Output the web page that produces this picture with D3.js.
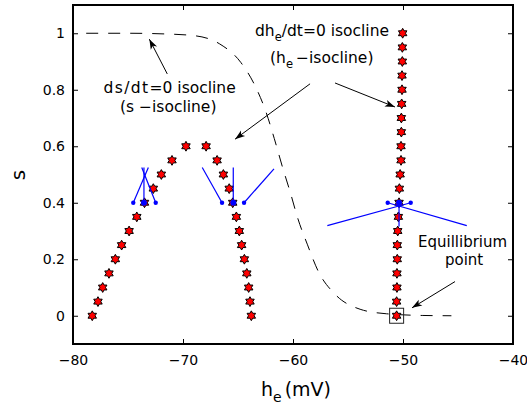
<!DOCTYPE html>
<html><head><meta charset="utf-8">
<script src="https://cdn.jsdelivr.net/npm/d3@7"></script>
<style>body{margin:0;background:#fff} svg{display:block}</style>
</head><body>
<svg id="c" width="527" height="406"></svg>
<script>
// ---------- data ----------
const xTicks = [-80, -70, -60, -50, -40];
const yTicks = [0, 0.2, 0.4, 0.6, 0.8, 1];

// h-isocline, left/middle branches (stars)
const hNullA_h = [-78.25, -77.73, -77.3, -76.73, -76.15, -75.58, -74.9, -74.2, -73.5, -72.7, -71.97, -71.0, -69.73,
                  -67.9, -66.9, -66.33, -65.8, -65.48, -65.15, -64.88, -64.67, -64.42, -64.2, -64.03, -63.91, -63.79];
const hNullA_s = [0, 0.05, 0.1, 0.15, 0.2, 0.25, 0.3, 0.35, 0.4, 0.45, 0.5, 0.55, 0.6,
                  0.6, 0.55, 0.5, 0.45, 0.4, 0.35, 0.3, 0.25, 0.2, 0.15, 0.1, 0.05, 0];
// h-isocline, right branch (stars)
const hNullB_h = [-50.58, -50.58, -50.55, -50.55, -50.52, -50.52, -50.48, -50.42, -50.36, -50.33, -50.26,
                  -50.18, -50.18, -50.15, -50.15, -50.12, -50.09, -50.09, -50.06, -50.06, -50.03];
const hNullB_s = [0, 0.05, 0.1, 0.15, 0.2, 0.25, 0.3, 0.35, 0.4, 0.45, 0.5,
                  0.55, 0.6, 0.65, 0.7, 0.75, 0.8, 0.85, 0.9, 0.95, 1.0];
// s-isocline (dashed)
const sNull_h = [-78.8, -75, -72, -69.1, -66.7, -64.75, -63.45, -62.47, -61.7, -60.97, -60.25, -59.55,
                 -58.68, -57.7, -56.2, -53.9, -51.5, -48.2, -45.6];
const sNull_s = [1.0, 1.0, 0.998, 0.992, 0.963, 0.897, 0.814, 0.723, 0.627, 0.528, 0.437, 0.343,
                 0.251, 0.157, 0.077, 0.023, 0.007, 0.001, 0.0];
// vector-field segments (start point -> end point)
const vecH0 = [-74.52, -73.55, -72.48, -66.45, -65.43, -64.45, -51.39, -50.36, -49.3];
const vecS0 = [0.4, 0.4, 0.4, 0.4, 0.4, 0.4, 0.4, 0.4, 0.4];
const vecH1 = [-73.15, -73.55, -73.75, -68.25, -65.43, -61.73, -44.2, -50.36, -56.88];
const vecS1 = [0.525, 0.525, 0.525, 0.525, 0.525, 0.52, 0.319, 0.316, 0.319];
const vecCenter = [false, true, false, false, true, false, false, true, false];
// equilibrium point
const eqH = -50.58, eqS = 0;

// annotation arrows (data coords: from -> to)
const arrFromH = [-71.43, -58.45, -56.18, -45.27];
const arrFromS = [0.856, 0.821, 0.824, 0.121];
const arrToH   = [-73.06, -65.27, -50.73, -49.18];
const arrToS   = [0.979, 0.625, 0.739, 0.028];

// ---------- chart ----------
const svg = d3.select('#c');
const FONT = 'DejaVu Sans, sans-serif';
const x = d3.scaleLinear().domain([-80, -40]).range([73, 513]);
const y = d3.scaleLinear().domain([-0.1, 1.1]).range([344, 5]);

const fmt = v => (v < 0 ? '\u2212' + Math.abs(v) : String(v));

// axes
const gB = svg.append('g').attr('transform', 'translate(0,344)')
  .call(d3.axisBottom(x).tickValues(xTicks).tickSizeInner(-5).tickSizeOuter(0).tickPadding(11).tickFormat(fmt));
const gL = svg.append('g').attr('transform', 'translate(73,0)')
  .call(d3.axisLeft(y).tickValues(yTicks).tickSizeInner(-5).tickSizeOuter(0).tickPadding(8).tickFormat(fmt));
const gT = svg.append('g').attr('transform', 'translate(0,5)')
  .call(d3.axisTop(x).tickValues(xTicks).tickSizeInner(-5).tickSizeOuter(0).tickFormat(''));
const gR = svg.append('g').attr('transform', 'translate(513,0)')
  .call(d3.axisRight(y).tickValues(yTicks).tickSizeInner(-5).tickSizeOuter(0).tickFormat(''));
[gB, gL, gT, gR].forEach(g => {
  g.select('.domain').remove();
  g.selectAll('line').attr('stroke', '#000').attr('stroke-width', 1);
  g.selectAll('text').attr('font-family', FONT).attr('font-size', 14).attr('fill', '#000');
});

// dashed s-isocline
const sPts = sNull_h.map((h, i) => [h, sNull_s[i]]);
svg.append('path').datum(sPts)
  .attr('d', d3.line().x(d => x(d[0])).y(d => y(d[1])).curve(d3.curveMonotoneX))
  .attr('fill', 'none').attr('stroke', '#000').attr('stroke-width', 1)
  .attr('stroke-dasharray', '12,10');

// hexagram symbol
const hexagram = {
  draw(ctx, size) {
    const R = Math.sqrt(size), r = R / Math.sqrt(3);
    for (let i = 0; i < 12; i++) {
      const a = -Math.PI / 2 + i * Math.PI / 6, rr = i % 2 === 0 ? R : r;
      const px = rr * Math.cos(a), py = rr * Math.sin(a);
      if (i === 0) ctx.moveTo(px, py); else ctx.lineTo(px, py);
    }
    ctx.closePath();
  }
};
const star = d3.symbol().type(hexagram).size(4.9 * 4.9);
const starPts = hNullA_h.map((h, i) => [h, hNullA_s[i]])
  .concat(hNullB_h.map((h, i) => [h, hNullB_s[i]]));
svg.append('g').selectAll('path').data(starPts).join('path')
  .attr('d', star)
  .attr('transform', d => `translate(${x(d[0])},${y(d[1])})`)
  .attr('fill', '#ff0000').attr('stroke', '#000').attr('stroke-width', 1).attr('stroke-linejoin', 'miter');

// equilibrium box
svg.append('rect')
  .attr('x', x(eqH) - 7).attr('y', y(eqS) - 7.5).attr('width', 14).attr('height', 15)
  .attr('fill', 'none').attr('stroke', '#222').attr('stroke-width', 1);

// vector field
const vecs = vecH0.map((h, i) => ({ h0: h, s0: vecS0[i], h1: vecH1[i], s1: vecS1[i], c: vecCenter[i] }));
svg.append('g').selectAll('line').data(vecs).join('line')
  .attr('x1', d => x(d.h0)).attr('y1', d => y(d.s0))
  .attr('x2', d => x(d.h1)).attr('y2', d => y(d.s1))
  .attr('stroke', '#0000ff').attr('stroke-width', 1.2);
svg.append('g').selectAll('circle').data(vecs).join('circle')
  .attr('cx', d => x(d.h0)).attr('cy', d => y(d.s0))
  .attr('r', d => d.c ? 3 : 2.2).attr('fill', '#0000ff');

// arrows
const defs = svg.append('defs');
defs.append('marker').attr('id', 'ah').attr('viewBox', '-11 -5 12 10')
  .attr('markerUnits', 'userSpaceOnUse').attr('markerWidth', 12).attr('markerHeight', 10)
  .attr('refX', 0).attr('refY', 0).attr('orient', 'auto')
  .append('path').attr('d', 'M0,0 L-10,-3.5 L-7.5,0 L-10,3.5 Z').attr('fill', '#000');
const arrs = arrFromH.map((h, i) => ({ h0: h, s0: arrFromS[i], h1: arrToH[i], s1: arrToS[i] }));
svg.append('g').selectAll('line').data(arrs).join('line')
  .attr('x1', d => x(d.h0)).attr('y1', d => y(d.s0))
  .attr('x2', d => x(d.h1)).attr('y2', d => y(d.s1))
  .attr('stroke', '#000').attr('stroke-width', 1).attr('marker-end', 'url(#ah)');

// annotation text
function label(xp, yp, parts, size) {
  const t = svg.append('text').attr('x', xp).attr('y', yp)
    .attr('font-family', FONT).attr('font-size', size).attr('fill', '#000');
  parts.forEach(p => {
    const ts = t.append('tspan').text(p.t);
    if (p.sub) ts.attr('font-size', p.sub).attr('dy', p.dy);
    if (p.back) ts.attr('dy', p.back);
    if (p.dx) ts.attr('dx', p.dx);
    if (p.ls) ts.attr('letter-spacing', p.ls);
  });
  return t;
}
label(103.5, 93, [{ t: 'ds/dt', ls: 1.4 }, { t: '=0 isocline' }], 15.5);
label(120, 111.5, [{ t: '(s \u2212isocline)' }], 15.5);
label(255, 36, [{ t: 'dh' }, { t: 'e', sub: 11.5, dy: 5 }, { t: '/dt=0 isocline', back: -5 }], 15.5);
label(270, 63, [{ t: '(h' }, { t: 'e', sub: 11.5, dy: 5 }, { t: '\u2009\u2212isocline)', back: -5 }], 15.5);
label(418, 246.5, [{ t: 'Equillibrium' }], 15);
label(445, 265, [{ t: 'point' }], 15);

// axis labels
label(261, 396, [{ t: 'h' }, { t: 'e', sub: 14, dy: 6 }, { t: '(mV)', back: -6, dx: 3 }], 19);
svg.append('text').attr('transform', 'translate(25,175) rotate(-90)')
  .attr('text-anchor', 'middle').attr('font-family', FONT).attr('font-size', 20).text('s');

// frame
svg.append('rect').attr('x', 73).attr('y', 5).attr('width', 440).attr('height', 339)
  .attr('fill', 'none').attr('stroke', '#000').attr('stroke-width', 2);
</script>
</body></html>
